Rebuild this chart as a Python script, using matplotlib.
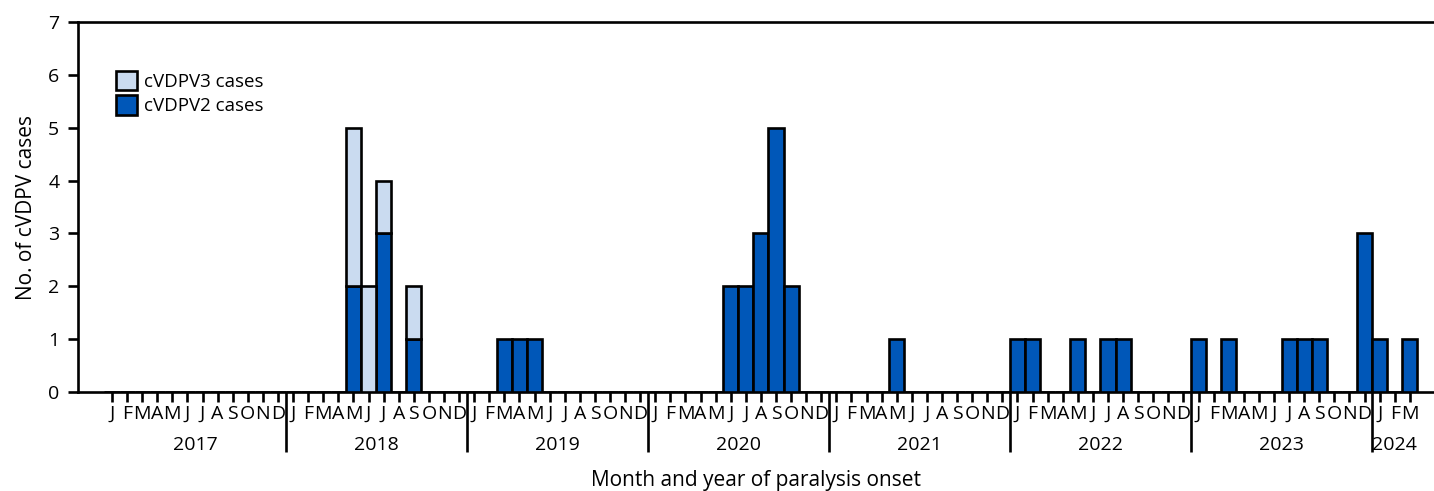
import matplotlib
matplotlib.use('Agg')
import matplotlib.pyplot as plt
from matplotlib.patches import Patch
import matplotlib.transforms as mtransforms

plt.rcParams['font.family'] = ['Open Sans', 'DejaVu Sans']
plt.rcParams['font.size'] = 14

# data: month of paralysis onset -> number of cases
v2_months = ['2018-05', '2018-07', '2018-09', '2019-03', '2019-04', '2019-05',
             '2020-06', '2020-07', '2020-08', '2020-09', '2020-10', '2021-05',
             '2022-01', '2022-02', '2022-05', '2022-07', '2022-08',
             '2023-01', '2023-03', '2023-07', '2023-08', '2023-09', '2023-12',
             '2024-01', '2024-03']
v2_cases = [2, 3, 1, 1, 1, 1,
            2, 2, 3, 5, 2, 1,
            1, 1, 1, 1, 1,
            1, 1, 1, 1, 1, 3,
            1, 1]
v3_months = ['2018-05', '2018-06', '2018-07', '2018-09']
v3_cases = [3, 2, 1, 1]

month_letters = ['J', 'F', 'M', 'A', 'M', 'J', 'J', 'A', 'S', 'O', 'N', 'D']
years = [2017, 2018, 2019, 2020, 2021, 2022, 2023, 2024]
n_months = 87  # Jan 2017 .. Mar 2024

dark = '#0057B8'
light = '#CADBF0'


def month_index(s):
    y, m = s.split('-')
    return (int(y) - 2017) * 12 + int(m) - 1


v2 = [0] * n_months
v3 = [0] * n_months
for m, c in zip(v2_months, v2_cases):
    v2[month_index(m)] = c
for m, c in zip(v3_months, v3_cases):
    v3[month_index(m)] = c

x = list(range(n_months))

fig = plt.figure(figsize=(14.34, 4.91), dpi=100)
ax = fig.add_axes([0.0544, 0.2016, 0.9456, 0.7536])

lw = 1.9
ax.bar(x, v2, width=1.0, color=dark, edgecolor='black', linewidth=lw, zorder=3)
ax.bar([i for i in x if v3[i] > 0], [v3[i] for i in x if v3[i] > 0],
       bottom=[v2[i] for i in x if v3[i] > 0], width=1.0,
       color=light, edgecolor='black', linewidth=lw, zorder=3)

ax.set_xlim(-2.25, 87.6)
ax.set_ylim(0, 7)
ax.set_yticks(range(8))

for side in ['left', 'bottom', 'top']:
    ax.spines[side].set_linewidth(lw)
ax.spines['right'].set_visible(False)

ax.tick_params(axis='y', length=7.5, width=lw, pad=6, labelsize=14)
ax.set_xticks(x)
ax.set_xticklabels([month_letters[i % 12] for i in x])
ax.tick_params(axis='x', which='major', length=7.5, width=lw, pad=1.5, labelsize=14)

# year dividers
dividers = [12 * k - 0.5 for k in range(1, 8)]
ax.set_xticks(dividers, minor=True)
ax.tick_params(axis='x', which='minor', length=43, width=lw, labelbottom=False)

trans = mtransforms.blended_transform_factory(ax.transData, ax.transAxes)
for k, yr in enumerate(years):
    if yr < 2024:
        cx = 12 * k + 5.5
    else:
        cx = 12 * k + 1
    ax.annotate(str(yr), xy=(cx, 0), xycoords=trans, xytext=(0, -38.5),
                textcoords='offset points', ha='center', va='center', fontsize=14)

ax.set_ylabel('No. of cVDPV cases', fontsize=15, labelpad=8)
ax.set_xlabel('Month and year of paralysis onset', fontsize=15)
ax.xaxis.set_label_coords(0.5, -0.238)
ax.xaxis.label.set_va('center')

handles = [Patch(facecolor=light, edgecolor='black', linewidth=lw, label='cVDPV3 cases'),
           Patch(facecolor=dark, edgecolor='black', linewidth=lw, label='cVDPV2 cases')]
ax.legend(handles=handles, loc='upper left', bbox_to_anchor=(0.028, 0.868),
          frameon=False, borderaxespad=0, borderpad=0, handlelength=1.1,
          handleheight=1.2, handletextpad=0.4, labelspacing=0.25, fontsize=13.5)

fig.savefig('out.png', dpi=100)
